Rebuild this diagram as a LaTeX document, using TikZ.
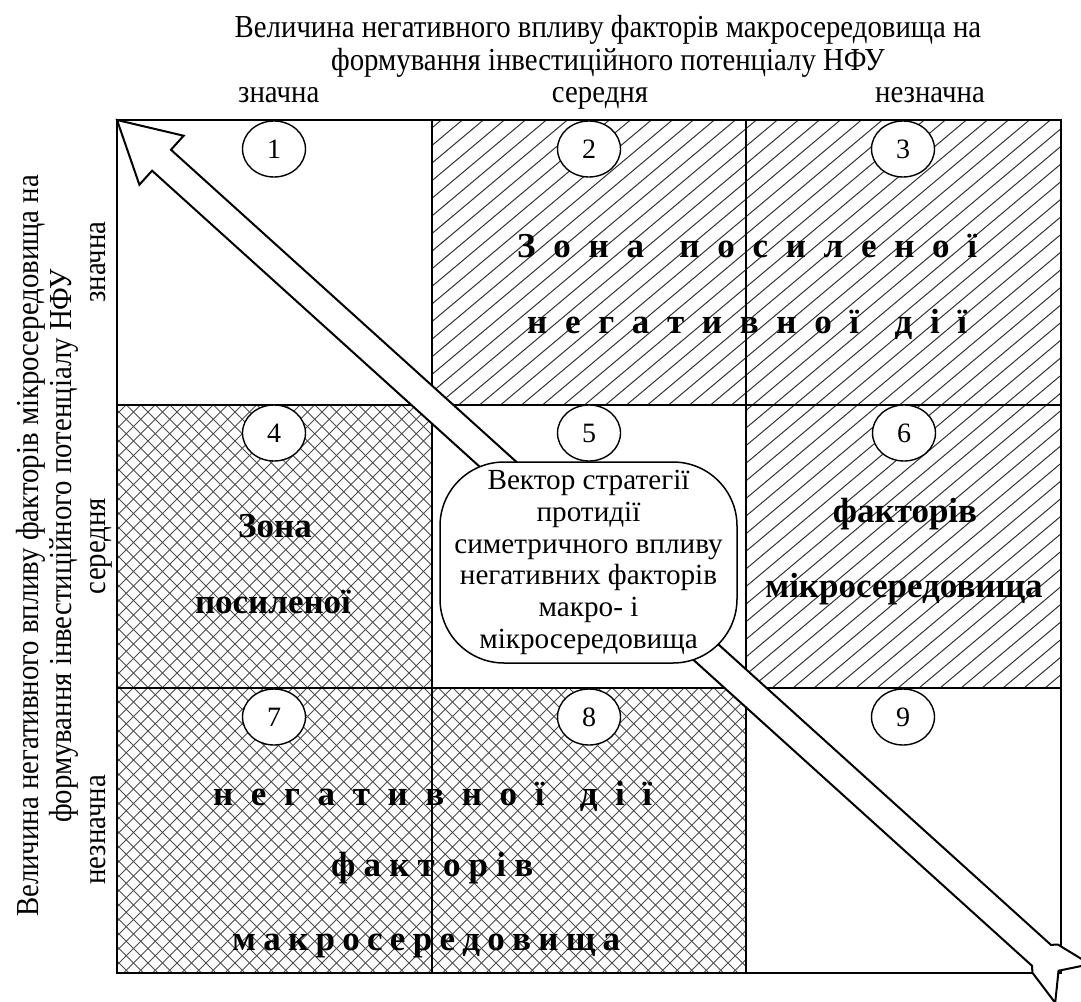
\documentclass[tikz,border=0pt]{standalone}
\usepackage{fontspec}
\setmainfont{Liberation Serif}
\newfontfamily\condfont{Liberation Serif}[FakeStretch=0.9]
\usetikzlibrary{shapes.geometric}
\begin{document}
\begin{tikzpicture}[x=1pt,y=-1pt,
  numbox/.style={ellipse, draw, fill=white, line width=1.4pt, minimum width=63pt, minimum height=56pt, inner sep=0pt, font=\fontsize{28}{30}\selectfont},
  boldtxt/.style={font=\fontsize{35}{38}\selectfont\bfseries, inner sep=0pt, anchor=base},
  lbl/.style={font=\condfont\fontsize{32}{33}\selectfont, inner sep=0pt},
  gridline/.style={line width=2pt},
  hatchline/.style={line width=1pt, black!80},
  crossline/.style={line width=0.9pt, black!70},
]
\useasboundingbox (0,0) rectangle (1081,1001);

% diagonal hatch: cells 2, 3, 6
\begin{scope}
  \clip (432,120) rectangle (1061,405) (746,405) rectangle (1061,688);
  \foreach \i in {0,...,70} { \draw[hatchline] (-320+\i*21,688) -- ++(700,-587); }
\end{scope}
% cross hatch: cells 4, 7, 8
\begin{scope}
  \clip (117,405) rectangle (432,688) (117,688) rectangle (746,973);
  \foreach \i in {0,...,90} {
    \draw[crossline] (-500+\i*14.5,973) -- ++(600,-600);
    \draw[crossline] (-500+\i*14.5,373) -- ++(600,600);
  }
\end{scope}

% grid
\draw[gridline] (117,120) rectangle (1061,973);
\draw[gridline] (432,120) -- (432,973);
\draw[gridline] (746,120) -- (746,973);
\draw[gridline] (117,405) -- (1061,405);
\draw[gridline] (117,688) -- (1061,688);

% big arrow
\begin{scope}
  \clip (0,0) rectangle (1081,1001);
  \begin{scope}[shift={(117,120)}, rotate=-42.1]
    \draw[line width=2pt, fill=white, line join=miter]
      (0,0) -- (60,-33) -- (60,-14.1) -- (1246,-14.1) -- (1251,-19) -- (1288,-26)
      -- (1269,0) -- (1288,26) -- (1251,19) -- (1246,14.1) -- (60,14.1) -- (60,33) -- cycle;
  \end{scope}
\end{scope}

% numbered ellipses
\node[numbox] (n1) at (274,149) {1};
\node[numbox] (n2) at (589,149) {2};
\node[numbox] (n3) at (903,149) {3};
\node[numbox] (n4) at (274,433) {4};
\node[numbox] (n5) at (589,433) {5};
\node[numbox] (n6) at (904,433) {6};
\node[numbox] (n7) at (274,717) {7};
\node[numbox] (n8) at (589,717) {8};
\node[numbox] (n9) at (903,717) {9};

% central box
\node[draw, fill=white, line width=1.5pt, rounded corners=64pt, minimum width=297pt, minimum height=201pt,
      align=center, font=\fontsize{29.2}{31.7}\selectfont, inner sep=0pt] (vec) at (588.5,562.5)
  {Вектор стратегії\\протидії\\симетричного впливу\\негативних факторів\\макро- і\\мікросередовища};

% bold zone texts
\node[boldtxt, anchor=base west] (z1) at (517,257) {\hbox to 460pt{З\hfill о\hfill н\hfill а\hfill\hfill п\hfill о\hfill с\hfill и\hfill л\hfill е\hfill н\hfill о\hfill ї}};
\node[boldtxt, anchor=base west] (z2) at (527,333) {\hbox to 440pt{н\hfill е\hfill г\hfill а\hfill т\hfill и\hfill в\hfill н\hfill о\hfill ї\hfill\hfill д\hfill і\hfill ї}};
\node[boldtxt] (z3) at (275,537) {Зона};
\node[boldtxt] (z4) at (273,613) {посиленої};
\node[boldtxt] (z5) at (905,522) {факторів};
\node[boldtxt] (z6) at (904,597) {мікросередовища};
\node[boldtxt, anchor=base west] (z7) at (213,805) {\hbox to 439pt{н\hfill е\hfill г\hfill а\hfill т\hfill и\hfill в\hfill н\hfill о\hfill ї\hfill\hfill д\hfill і\hfill ї}};
\node[boldtxt, anchor=base west] (z8) at (331,876) {\hbox to 202pt{ф\hfill а\hfill к\hfill т\hfill о\hfill р\hfill і\hfill в}};
\node[boldtxt, anchor=base west] (z9) at (232,950) {\hbox to 388pt{м\hfill а\hfill к\hfill р\hfill о\hfill с\hfill е\hfill р\hfill е\hfill д\hfill о\hfill в\hfill и\hfill щ\hfill а}};

% top labels
\node[lbl, align=center] (ttl) at (608,46) {Величина негативного впливу факторів макросередовища на\\формування інвестиційного потенціалу НФУ};
\node[lbl, anchor=base west] (c1) at (238,102) {значна};
\node[lbl, anchor=base] (c2) at (600,102) {середня};
\node[lbl, anchor=base east] (c3) at (985,102) {незначна};

% left labels
\node[lbl, align=center, rotate=90] (ltl) at (47,546) {Величина негативного впливу факторів мікросередовища на\\формування інвестиційного потенціалу НФУ};
\node[lbl, rotate=90, anchor=base] (r1) at (105,262) {значна};
\node[lbl, rotate=90, anchor=base] (r2) at (105,546) {середня};
\node[lbl, rotate=90, anchor=base] (r3) at (105,830) {незначна};
\end{tikzpicture}
\end{document}
